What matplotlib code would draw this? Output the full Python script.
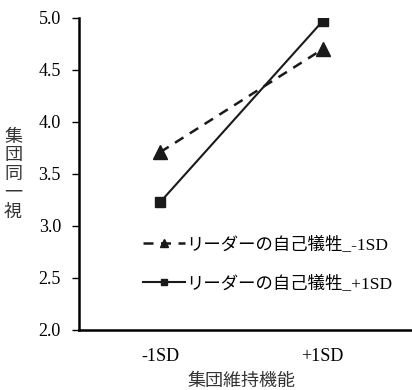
import matplotlib
matplotlib.use('Agg')
import matplotlib.pyplot as plt

plt.rcParams['font.family'] = ['Liberation Serif', 'Noto Sans CJK JP']

x_labels = ['-1SD', '+1SD']
low_vals = [3.71, 4.70]    # リーダーの自己犠牲_-1SD
high_vals = [3.23, 4.97]   # リーダーの自己犠牲_+1SD
series_names = ['リーダーの自己犠牲_-1SD', 'リーダーの自己犠牲_+1SD']

fig = plt.figure(figsize=(4.12, 3.9), dpi=100)
ax = fig.add_axes([79/412, 60/390, 333/412, 312/390])

xs = range(len(x_labels))
ax.plot(xs, low_vals, color='#1a1a1a', ls=(0, (4, 3)), lw=1.8, marker='^',
        ms=10, label=series_names[0])
ax.plot(xs, high_vals, color='#1a1a1a', ls='-', lw=1.5, marker='s',
        ms=7.5, label=series_names[1])

ax.set_xlim(-0.5, 1.55)
ax.set_ylim(2.0, 5.0)
ax.set_yticks([2.0, 2.5, 3.0, 3.5, 4.0, 4.5, 5.0])
ax.set_yticklabels(['%.1f' % v for v in ax.get_yticks()], fontsize=13)
ax.set_xticks(list(xs))
ax.set_xticklabels(x_labels, fontsize=13)
ax.tick_params(axis='x', length=0, pad=13)
ax.tick_params(axis='y', length=5, width=1, direction='out', pad=8)
for s in ['top', 'right']:
    ax.spines[s].set_visible(False)
for s in ['left', 'bottom']:
    ax.spines[s].set_linewidth(1.8)

fig.text(241/412, 1 - 381/390, '集団維持機能', fontsize=13,
         family=['Noto Sans CJK JP'], ha='center', va='center', color='#333333')
fig.text(13/412, 1 - 174/390, '集\n団\n同\n一\n視', fontsize=13,
         family=['Noto Sans CJK JP'], ha='center', va='center',
         linespacing=1.05, color='#333333')

leg = ax.legend(loc='upper left', bbox_to_anchor=(0.145, 0.35), frameon=False,
                prop={'family': ['Liberation Serif', 'Noto Sans CJK JP'], 'size': 12.5},
                handlelength=2.4, handletextpad=0.1, labelspacing=1.25, markerscale=0.6)

fig.savefig('out.png', dpi=100)
